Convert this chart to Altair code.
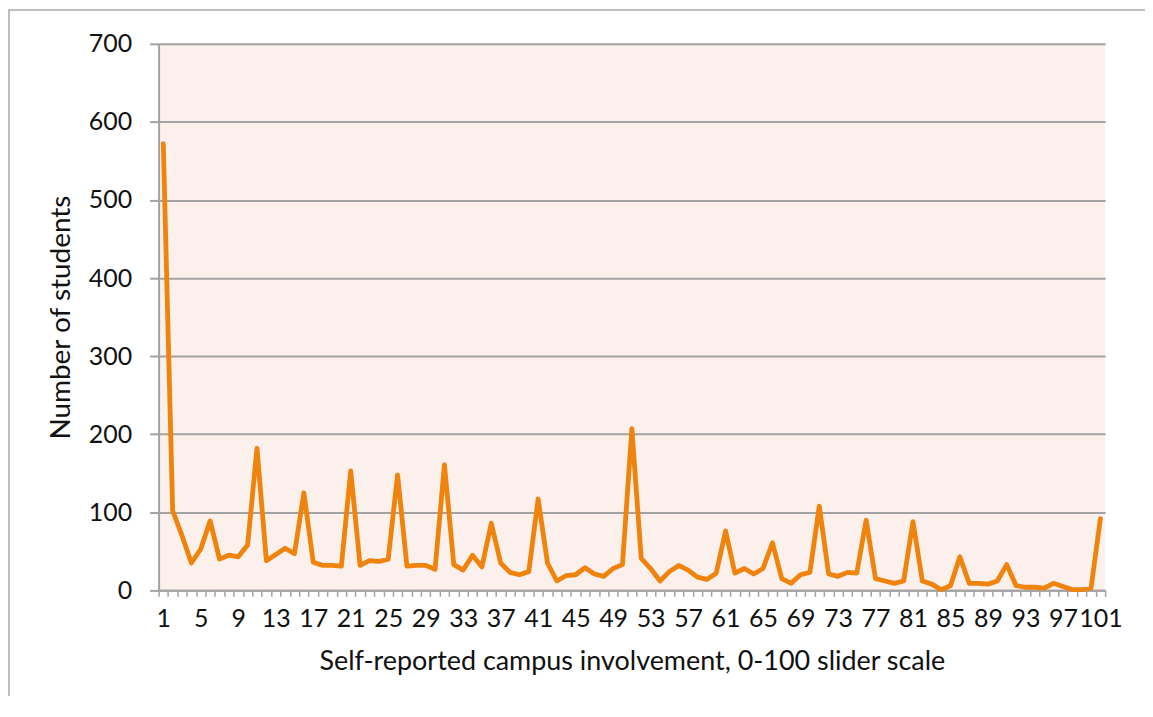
import altair as alt
import pandas as pd

# ---- data ----
scores = list(range(1, 102))
students = [
    572, 102, 70, 35, 53, 89, 40, 45, 43, 58,
    182, 38, 46, 54, 47, 125, 36, 32, 32, 31,
    153, 32, 38, 37, 40, 148, 31, 32, 32, 27,
    161, 33, 26, 45, 30, 86, 35, 23, 20, 24,
    117, 35, 12, 19, 20, 29, 21, 18, 28, 33,
    207, 41, 28, 12, 24, 32, 26, 17, 14, 22,
    76, 22, 28, 21, 28, 61, 15, 9, 20, 23,
    108, 21, 18, 23, 22, 90, 15, 12, 9, 12,
    88, 12, 8, 1, 6, 43, 9, 9, 8, 12,
    33, 6, 4, 4, 3, 9, 5, 1, 1, 3, 92,
]
x_label_values = list(range(1, 102, 4))
x_tick_values = [i + 0.5 for i in range(0, 102)]
y_tick_values = [0, 100, 200, 300, 400, 500, 600, 700]

x_title = "Self-reported campus involvement, 0-100 slider scale"
y_title = "Number of students"

df = pd.DataFrame({"score": scores, "students": students})
frame_df = pd.DataFrame({"k": [0]})

FONT = "Lato"
GRAY = "#A3A3A3"
TEXT = "#111111"
LINE = "#EF830B"
LABEL_SIZE = 25
X_TITLE_SIZE = 27
Y_TITLE_SIZE = 28

x_scale = alt.Scale(domain=[0.5, 101.5], nice=False, zero=False)
y_scale = alt.Scale(domain=[0, 700], nice=False, zero=True)


def y_axis():
    return alt.Axis(
        values=y_tick_values, title=y_title, grid=True, gridColor=GRAY, gridWidth=2,
        domain=True, domainColor=GRAY, domainWidth=2,
        ticks=True, tickColor=GRAY, tickWidth=2, tickSize=9,
        labelFont=FONT, labelFontSize=LABEL_SIZE, labelColor=TEXT, labelPadding=18,
        titleFont=FONT, titleFontSize=Y_TITLE_SIZE, titleFontWeight="normal",
        titleColor=TEXT, titlePadding=13,
    )


frame = alt.Chart(frame_df).mark_rect(
    fill="transparent", stroke="#A8A8A8", strokeWidth=1.5
).encode(
    x=alt.value(-150), x2=alt.value(1300), y=alt.value(-34), y2=alt.value(900)
)

ticks_layer = alt.Chart(df).mark_line(opacity=0).encode(
    x=alt.X("score:Q", scale=x_scale, axis=alt.Axis(
        values=x_tick_values, labels=False, title=None, grid=False, orient="bottom",
        domain=True, domainColor=GRAY, domainWidth=2,
        ticks=True, tickColor=GRAY, tickWidth=1.5, tickSize=6,
    )),
    y=alt.Y("students:Q", scale=y_scale, axis=y_axis()),
)

line_layer = alt.Chart(df).mark_line(
    color=LINE, strokeWidth=4.8, strokeJoin="round", strokeCap="round"
).encode(
    x=alt.X("score:Q", scale=x_scale, axis=alt.Axis(
        values=x_label_values, title=x_title, grid=False, orient="bottom",
        domain=False, ticks=False, labelFont=FONT, labelFontSize=LABEL_SIZE,
        labelColor=TEXT, labelPadding=16, labelFlush=False, labelOverlap=False,
        titleFont=FONT, titleFontSize=X_TITLE_SIZE, titleFontWeight="normal",
        titleColor=TEXT, titlePadding=17,
    )),
    y=alt.Y("students:Q", scale=y_scale, axis=y_axis()),
)

chart = alt.layer(frame, ticks_layer, line_layer).resolve_axis(
    x="independent"
).properties(
    width=949, height=548,
    autosize=alt.AutoSizeParams(type="none"),
    padding={"left": 151, "top": 35, "right": 40, "bottom": 105},
    background="white",
).configure_view(
    fill="#FBF0EB", strokeWidth=0
)

chart.save("out.html", embed_options={"renderer": "svg", "actions": False})
